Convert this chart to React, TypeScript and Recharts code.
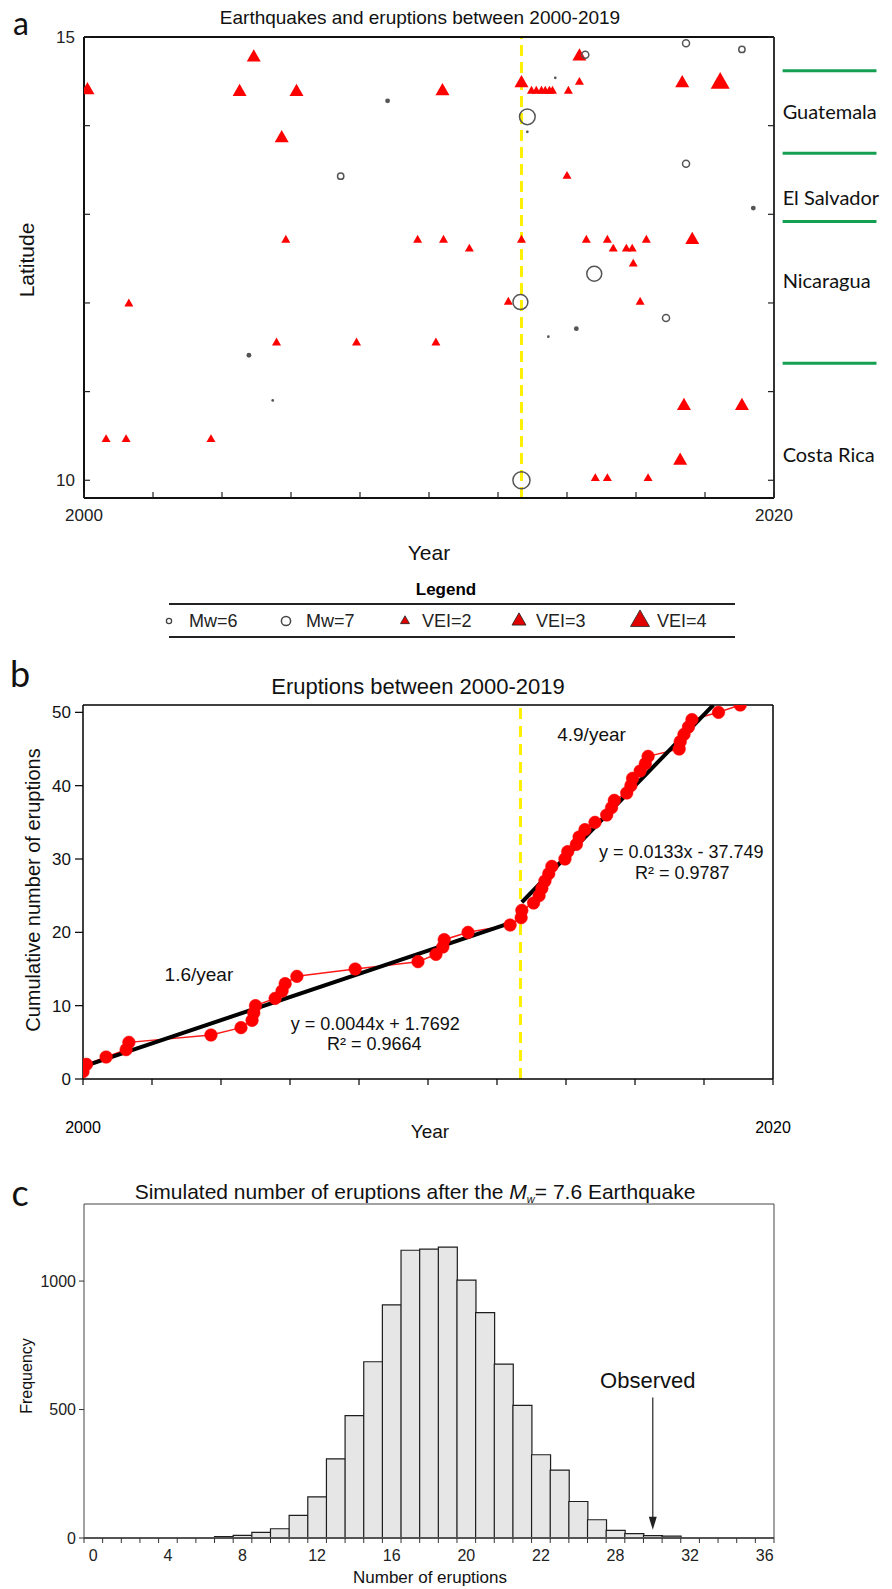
import React from "react";
import {
  ScatterChart,
  Scatter,
  XAxis,
  YAxis,
  ReferenceLine,
  ReferenceDot,
  ComposedChart,
  Line,
  BarChart,
  Bar,
} from "recharts";

const SANS = "'Liberation Sans', Arial, Helvetica, sans-serif";
const CAL = "Lato, 'Open Sans', sans-serif";

// ---------------- Panel a: earthquakes and eruptions ----------------
const eruptionYears = [
  2000.1, 2000.64, 2001.22, 2001.3, 2003.68, 2004.51, 2004.92, 2005.58, 2005.73, 2005.85,
  2006.16, 2007.9, 2009.67, 2010.2, 2010.39, 2010.42, 2011.17, 2012.3, 2012.68, 2012.68,
  2012.97, 2013.11, 2013.26, 2013.37, 2013.49, 2013.58, 2014.0, 2014.04, 2014.36, 2014.36,
  2014.56, 2014.82, 2015.17, 2015.17, 2015.34, 2015.72, 2015.89, 2015.92, 2016.12, 2016.3,
  2016.35, 2017.28, 2017.34, 2017.39, 2017.63, 2018.44, 2019.07,
];
const eruptionLats = [
  14.4, 10.46, 10.46, 11.99, 10.46, 14.38, 14.77, 11.55, 13.86, 12.71,
  14.38, 11.55, 12.71, 11.55, 14.39, 12.71, 12.61, 12.01, 14.48, 12.71,
  14.39, 14.39, 14.39, 14.39, 14.39, 14.39, 13.43, 14.39, 14.49, 14.78,
  12.71, 10.02, 12.71, 10.02, 12.61, 12.61, 12.61, 12.44, 12.01, 12.71,
  10.02, 10.22, 14.48, 10.84, 12.71, 14.48, 10.84,
];
const eruptionVEI = [
  3, 2, 2, 2, 2, 3, 3, 2, 3, 2,
  3, 2, 2, 2, 3, 2, 2, 2, 3, 2,
  2, 2, 2, 2, 2, 2, 2, 2, 2, 3,
  2, 2, 2, 2, 2, 2, 2, 2, 2, 2,
  2, 3, 3, 3, 3, 4, 3,
];
const quakeYears = [
  2004.78, 2005.47, 2007.44, 2008.8, 2012.65, 2012.68, 2012.85, 2012.85, 2013.46, 2013.66,
  2014.27, 2014.53, 2014.79, 2016.87, 2017.45, 2017.45, 2019.07, 2019.4,
];
const quakeLats = [
  11.41, 10.9, 13.43, 14.28, 12.01, 10.0, 14.1, 13.93, 11.62, 14.54,
  11.71, 14.8, 12.33, 11.83, 14.93, 13.57, 14.86, 13.07,
];
const quakeMw = [
  5.9, 5.6, 6.1, 5.9, 7.3, 7.6, 7.4, 5.6, 5.6, 5.6,
  5.9, 6.2, 7.3, 6.2, 6.2, 6.2, 6.1, 5.9,
];
const latTicks = [10, 11, 12, 13, 14, 15];
const latLabelTicks = [10, 15];
const yearTicks = [2000, 2002, 2004, 2006, 2008, 2010, 2012, 2014, 2016, 2018, 2020];
const yearLabelTicks = [2000, 2020];
const mainQuakeYear = 2012.68;
const countryNames = ["Guatemala", "El Salvador", "Nicaragua", "Costa Rica"];
const countryLats = [14.16, 13.2, 12.26, 10.3];
const borderLats = [14.62, 13.69, 12.92, 11.32];
const borderSpan = [2020.25, 2022.97];
const legendLabels = ["Mw=6", "Mw=7", "VEI=2", "VEI=3", "VEI=4"];

// ---------------- Panel b: cumulative eruptions ----------------
const cumYears = [
  2000.0, 2000.1, 2000.67, 2001.25, 2001.33, 2003.71, 2004.58, 2004.9, 2004.95, 2005.0,
  2005.57, 2005.77, 2005.86, 2006.2, 2007.89, 2009.71, 2010.23, 2010.43, 2010.47, 2011.16,
  2012.38, 2012.7, 2012.72, 2013.06, 2013.22, 2013.3, 2013.39, 2013.5, 2013.59, 2013.97,
  2014.05, 2014.3, 2014.38, 2014.55, 2014.84, 2015.18, 2015.32, 2015.4, 2015.76, 2015.88,
  2015.93, 2016.15, 2016.3, 2016.38, 2017.28, 2017.31, 2017.42, 2017.55, 2017.65, 2018.42,
  2019.05,
];
const cumCounts = [
  1, 2, 3, 4, 5, 6, 7, 8, 9, 10, 11, 12, 13, 14, 15, 16, 17, 18, 19, 20,
  21, 22, 23, 24, 25, 26, 27, 28, 29, 30, 31, 32, 33, 34, 35, 36, 37, 38, 39, 40,
  41, 42, 43, 44, 45, 46, 47, 48, 49, 50, 51,
];
const trendEarlyYears = [2000, 2012.33];
const trendEarlyCounts = [1.7, 21.2];
const trendLateYears = [2012.72, 2018.27];
const trendLateCounts = [24.1, 51];
const countTicks = [0, 10, 20, 30, 40, 50];

// ---------------- Panel c: simulated histogram ----------------
const bins = [
  0, 1, 2, 3, 4, 5, 6, 7, 8, 9, 10, 11, 12, 13, 14, 15, 16, 17, 18,
  19, 20, 21, 22, 23, 24, 25, 26, 27, 28, 29, 30, 31, 32, 33, 34, 35, 36,
];
const freqs = [
  0, 0, 0, 0, 0, 0, 0, 5, 10, 22, 36, 88, 160, 308, 476, 686, 907, 1120, 1124,
  1132, 1004, 877, 677, 516, 324, 264, 142, 71, 30, 17, 9, 7, 0, 0, 0, 0, 0,
];
const freqTicks = [0, 500, 1000];
const binLabelValues = [0, 4, 8, 12, 16, 20, 24, 28, 32, 36];
const binLabelTexts = ["0", "4", "8", "12", "16", "20", "22", "28", "32", "36"];
const observedEruptions = 30;

// ---------------- derived tables ----------------
const eruptionData = eruptionYears.map((x, i) => ({ x, y: eruptionLats[i], vei: eruptionVEI[i] }));
const quakeData = quakeYears.map((x, i) => ({ x, y: quakeLats[i], mw: quakeMw[i] }));
const cumData = cumYears.map((x, i) => ({ x, y: cumCounts[i] }));
const trendEarly = trendEarlyYears.map((x, i) => ({ x, y: trendEarlyCounts[i] }));
const trendLate = trendLateYears.map((x, i) => ({ x, y: trendLateCounts[i] }));
const histData = bins.map((bin, i) => ({ bin, freq: freqs[i] }));

// ---------------- shapes ----------------
const TRI_HALF: Record<number, number> = { 2: 4.5, 3: 7, 4: 9.5 };
function triPoints(cx: number, cy: number, half: number) {
  const h = half * 1.75;
  return `${cx - half},${cy + h / 3} ${cx + half},${cy + h / 3} ${cx},${cy - (2 * h) / 3}`;
}
const EruptionShape = (p: any) => {
  const half = TRI_HALF[p.payload?.vei] ?? 5;
  return <polygon points={triPoints(p.cx, p.cy, half)} fill="#ff0000" />;
};
const QuakeShape = (p: any) => {
  const mw = p.payload?.mw ?? 6;
  const r = 1 + (mw - 5.5) * 3.6;
  if (mw < 6) return <circle cx={p.cx} cy={p.cy} r={r} fill="#555" />;
  return <circle cx={p.cx} cy={p.cy} r={r} fill="none" stroke="#555" strokeWidth={1.5} />;
};

type Side = "bottom" | "top" | "left" | "right";
function inwardTick(side: Side, labels: number[], offset: number) {
  return (props: any) => {
    const { x, y, payload } = props;
    const v = payload?.value;
    const L = 6;
    let x2 = x;
    let y2 = y;
    if (side === "bottom") y2 = y - L;
    if (side === "top") y2 = y + L;
    if (side === "left") x2 = x + L;
    if (side === "right") x2 = x - L;
    let label = null;
    if (labels.includes(v)) {
      if (side === "bottom")
        label = (
          <text x={x} y={y + offset} textAnchor="middle" dominantBaseline="central" fontSize={17} fontFamily={SANS} fill="#222">
            {v}
          </text>
        );
      if (side === "left")
        label = (
          <text x={x - offset} y={y} textAnchor="end" dominantBaseline="central" fontSize={17} fontFamily={SANS} fill="#222">
            {v}
          </text>
        );
    }
    return (
      <g>
        <line x1={x} y1={y} x2={x2} y2={y2} stroke="#222" strokeWidth={1.2} />
        {label}
      </g>
    );
  };
}

const yearLabelTickB = (props: any) => {
  const { x, y, payload } = props;
  if (!yearLabelTicks.includes(payload?.value)) return <g />;
  return (
    <text x={x} y={y + 42} textAnchor="middle" dominantBaseline="central" fontSize={16} fontFamily={SANS} fill="#000">
      {payload.value}
    </text>
  );
};

const HALF_BAND = 9.32;
const binTick = (props: any) => {
  const { x, y, payload } = props;
  const v = payload?.value;
  const k = binLabelValues.indexOf(v);
  return (
    <g>
      <line x1={x - HALF_BAND} y1={y} x2={x - HALF_BAND} y2={y + 5} stroke="#333" strokeWidth={1} />
      {v === bins[bins.length - 1] && (
        <line x1={x + HALF_BAND} y1={y} x2={x + HALF_BAND} y2={y + 5} stroke="#333" strokeWidth={1} />
      )}
      {k >= 0 && (
        <text x={x} y={y + 17} textAnchor="middle" dominantBaseline="central" fontSize={16} fontFamily={SANS} fill="#222">
          {binLabelTexts[k]}
        </text>
      )}
    </g>
  );
};

const textShape = (label: string, size: number, anchor: "start" | "middle" | "end", family = SANS) => (p: any) => (
  <text x={p.cx} y={p.cy} textAnchor={anchor} dominantBaseline="central" fontSize={size} fontFamily={family} fill="#111">
    {label}
  </text>
);

const arrowHead = (p: any) => (
  <polygon points={`${p.cx - 4},${p.cy - 13} ${p.cx + 4},${p.cy - 13} ${p.cx},${p.cy}`} fill="#222" />
);

// ---------------- HTML text helper ----------------
const T = ({
  x,
  y,
  size,
  children,
  anchor = "middle",
  weight = "normal",
  family = SANS,
  rotate = 0,
}: any) => {
  const tx = anchor === "middle" ? "-50%" : anchor === "end" ? "-100%" : "0";
  return (
    <div
      style={{
        position: "absolute",
        left: x,
        top: y,
        transform: `translate(${tx}, -50%)${rotate ? ` rotate(${rotate}deg)` : ""}`,
        fontSize: size,
        fontFamily: family,
        fontWeight: weight,
        whiteSpace: "nowrap",
        lineHeight: 1.15,
        color: "#111",
      }}
    >
      {children}
    </div>
  );
};

const LegendA = () => {
  const y = 46;
  const markX = [169, 286, 405, 519, 640];
  const textX = [189, 306, 422, 536, 657];
  return (
    <svg width={892} height={70} style={{ position: "absolute", left: 0, top: 575 }}>
      <text x={446} y={14} textAnchor="middle" dominantBaseline="central" fontWeight="bold" fontSize={17} fontFamily={SANS}>
        Legend
      </text>
      <line x1={169} x2={735} y1={29} y2={29} stroke="#222" strokeWidth={2} />
      <line x1={169} x2={735} y1={62} y2={62} stroke="#222" strokeWidth={2} />
      <circle cx={markX[0]} cy={y} r={2.6} fill="none" stroke="#444" strokeWidth={1.3} />
      <circle cx={markX[1]} cy={y} r={4.6} fill="none" stroke="#444" strokeWidth={1.5} />
      <polygon points={triPoints(markX[2], y, 4.5)} fill="#e00000" stroke="#222" strokeWidth={0.8} />
      <polygon points={triPoints(markX[3], y, 7)} fill="#e00000" stroke="#222" strokeWidth={0.8} />
      <polygon points={triPoints(markX[4], y, 9.5)} fill="#e00000" stroke="#222" strokeWidth={0.8} />
      {legendLabels.map((l, i) => (
        <text key={l} x={textX[i]} y={y} dominantBaseline="central" fontSize={18} fontFamily={SANS} fill="#222">
          {l}
        </text>
      ))}
    </svg>
  );
};

export default function App() {
  return (
    <div
      style={{
        position: "absolute",
        left: 0,
        top: 0,
        width: 892,
        height: 1589,
        background: "#fff",
        overflow: "hidden",
        fontFamily: SANS,
      }}
    >
      {/* ---------------- Panel a ---------------- */}
      <T x={21} y={23} size={32} family={CAL}>a</T>
      <T x={420} y={18} size={19}>Earthquakes and eruptions between 2000-2019</T>
      <T x={27} y={260} size={21} rotate={-90}>Latitude</T>
      <T x={429} y={553} size={21}>Year</T>
      <div style={{ position: "absolute", left: 0, top: 0 }}>
        <ScatterChart width={892} height={540} margin={{ top: 27, left: 44, right: 108, bottom: 12 }}>
          <XAxis
            xAxisId="b"
            type="number"
            dataKey="x"
            domain={[2000, 2020]}
            ticks={yearTicks}
            interval={0}
            height={30}
            tickSize={0}
            tickMargin={0}
            tickLine={false}
            allowDataOverflow
            axisLine={{ stroke: "#111", strokeWidth: 2 }}
            tick={inwardTick("bottom", yearLabelTicks, 17)}
          />
          <XAxis
            xAxisId="t"
            orientation="top"
            type="number"
            domain={[2000, 2020]}
            ticks={yearTicks}
            interval={0}
            height={10}
            tickSize={0}
            tickMargin={0}
            tickLine={false}
            allowDataOverflow
            axisLine={{ stroke: "#111", strokeWidth: 2 }}
            tick={inwardTick("top", [], 0)}
          />
          <YAxis
            yAxisId="l"
            type="number"
            dataKey="y"
            domain={[9.8, 15]}
            ticks={latTicks}
            interval={0}
            width={40}
            tickSize={0}
            tickMargin={0}
            tickLine={false}
            allowDataOverflow
            axisLine={{ stroke: "#111", strokeWidth: 2 }}
            tick={inwardTick("left", latLabelTicks, 9)}
          />
          <YAxis
            yAxisId="r"
            orientation="right"
            type="number"
            domain={[9.8, 15]}
            ticks={latTicks}
            interval={0}
            width={10}
            tickSize={0}
            tickMargin={0}
            tickLine={false}
            allowDataOverflow
            axisLine={{ stroke: "#333", strokeWidth: 2 }}
            tick={inwardTick("right", [], 0)}
          />
          {borderLats.map((lat) => (
            <ReferenceLine
              key={lat}
              xAxisId="b"
              yAxisId="l"
              ifOverflow="visible"
              segment={[
                { x: borderSpan[0], y: lat },
                { x: borderSpan[1], y: lat },
              ]}
              stroke="#14a050"
              strokeWidth={3}
            />
          ))}
          {countryNames.map((n, i) => (
            <ReferenceDot
              key={n}
              xAxisId="b"
              yAxisId="l"
              x={borderSpan[0]}
              y={countryLats[i]}
              r={0}
              ifOverflow="visible"
              shape={textShape(n, 20, "start", CAL)}
            />
          ))}
          <Scatter xAxisId="b" yAxisId="l" data={eruptionData} shape={EruptionShape} isAnimationActive={false} />
          <Scatter xAxisId="b" yAxisId="l" data={quakeData} shape={QuakeShape} isAnimationActive={false} />
          <ReferenceLine
            xAxisId="b"
            yAxisId="l"
            x={mainQuakeYear}
            stroke="#fff000"
            strokeWidth={3}
            strokeDasharray="11 6"
          />
        </ScatterChart>
      </div>
      <LegendA />

      {/* ---------------- Panel b ---------------- */}
      <T x={20} y={674} size={36} family={CAL}>b</T>
      <T x={418} y={687} size={22}>Eruptions between 2000-2019</T>
      <T x={33} y={890} size={20} rotate={-90}>Cumulative number of eruptions</T>
      <T x={430} y={1132} size={19}>Year</T>
      <div style={{ position: "absolute", left: 0, top: 650 }}>
        <ComposedChart width={892} height={500} margin={{ top: 54, left: 23, right: 118, bottom: 41 }}>
          <XAxis
            xAxisId="b"
            type="number"
            dataKey="x"
            domain={[2000, 2020]}
            ticks={yearTicks}
            interval={0}
            height={30}
            tickSize={6}
            tickMargin={0}
            allowDataOverflow
            axisLine={{ stroke: "#000", strokeWidth: 1.5 }}
            tickLine={{ stroke: "#000", strokeWidth: 1.2 }}
            tick={yearLabelTickB}
          />
          <XAxis
            xAxisId="t"
            orientation="top"
            type="number"
            domain={[2000, 2020]}
            height={1}
            tick={false}
            tickLine={false}
            allowDataOverflow
            axisLine={{ stroke: "#000", strokeWidth: 1.5 }}
          />
          <YAxis
            yAxisId="l"
            type="number"
            dataKey="y"
            domain={[0, 51]}
            ticks={countTicks}
            interval={0}
            width={60}
            tickSize={8}
            tickMargin={4}
            allowDataOverflow
            axisLine={{ stroke: "#000", strokeWidth: 1.5 }}
            tickLine={{ stroke: "#000", strokeWidth: 1.2 }}
            tick={{ fontSize: 17, fill: "#111", fontFamily: SANS }}
          />
          <YAxis
            yAxisId="r"
            orientation="right"
            type="number"
            domain={[0, 51]}
            width={1}
            tick={false}
            tickLine={false}
            allowDataOverflow
            axisLine={{ stroke: "#000", strokeWidth: 1.5 }}
          />
          <ReferenceLine
            xAxisId="b"
            yAxisId="l"
            x={mainQuakeYear}
            stroke="#fff000"
            strokeWidth={3}
            strokeDasharray="11 7"
          />
          <Line
            xAxisId="b"
            yAxisId="l"
            data={cumData}
            dataKey="y"
            type="linear"
            stroke="#ff1a1a"
            strokeWidth={1.5}
            dot={{ r: 6.3, fill: "#ff0000", stroke: "#ff0000", strokeWidth: 0.5 }}
            isAnimationActive={false}
          />
          <Line
            xAxisId="b"
            yAxisId="l"
            data={trendEarly}
            dataKey="y"
            type="linear"
            stroke="#000"
            strokeWidth={4}
            dot={false}
            isAnimationActive={false}
          />
          <Line
            xAxisId="b"
            yAxisId="l"
            data={trendLate}
            dataKey="y"
            type="linear"
            stroke="#000"
            strokeWidth={4}
            dot={false}
            isAnimationActive={false}
          />
          <ReferenceDot xAxisId="b" yAxisId="l" x={2003.36} y={14.2} r={0} ifOverflow="visible" shape={textShape("1.6/year", 19, "middle")} />
          <ReferenceDot xAxisId="b" yAxisId="l" x={2008.47} y={7.5} r={0} ifOverflow="visible" shape={textShape("y = 0.0044x + 1.7692", 18, "middle")} />
          <ReferenceDot xAxisId="b" yAxisId="l" x={2008.44} y={4.8} r={0} ifOverflow="visible" shape={textShape("R² = 0.9664", 18, "middle")} />
          <ReferenceDot xAxisId="b" yAxisId="l" x={2014.74} y={47.0} r={0} ifOverflow="visible" shape={textShape("4.9/year", 19, "middle")} />
          <ReferenceDot xAxisId="b" yAxisId="l" x={2017.34} y={30.9} r={0} ifOverflow="visible" shape={textShape("y = 0.0133x - 37.749", 18, "middle")} />
          <ReferenceDot xAxisId="b" yAxisId="l" x={2017.37} y={28.1} r={0} ifOverflow="visible" shape={textShape("R² = 0.9787", 18, "middle")} />
        </ComposedChart>
      </div>

      {/* ---------------- Panel c ---------------- */}
      <T x={20} y={1193} size={36} family={CAL}>c</T>
      <T x={415} y={1193} size={21}>
        Simulated number of eruptions after the <i>M</i>
        <span style={{ fontSize: 11, fontStyle: "italic", verticalAlign: "-0.35em" }}>w</span>= 7.6 Earthquake
      </T>
      <T x={27} y={1376} size={16} rotate={-90}>Frequency</T>
      <T x={430} y={1578} size={17}>Number of eruptions</T>
      <div style={{ position: "absolute", left: 0, top: 1150 }}>
        <BarChart
          width={892}
          height={439}
          data={histData}
          barCategoryGap={0}
          barGap={0}
          margin={{ top: 53, left: 34, right: 117, bottom: 11 }}
        >
          <XAxis
            xAxisId="b"
            dataKey="bin"
            interval={0}
            height={40}
            tickSize={0}
            tickMargin={0}
            tickLine={false}
            axisLine={{ stroke: "#555", strokeWidth: 2 }}
            tick={binTick}
          />
          <XAxis
            xAxisId="t"
            orientation="top"
            dataKey="bin"
            height={1}
            tick={false}
            tickLine={false}
            axisLine={{ stroke: "#444", strokeWidth: 1 }}
          />
          <YAxis
            yAxisId="l"
            type="number"
            domain={[0, 1300]}
            ticks={freqTicks}
            interval={0}
            width={50}
            tickSize={5}
            tickMargin={3}
            allowDataOverflow
            axisLine={{ stroke: "#444", strokeWidth: 1 }}
            tickLine={{ stroke: "#333", strokeWidth: 1 }}
            tick={{ fontSize: 16, fill: "#222", fontFamily: SANS }}
          />
          <YAxis
            yAxisId="r"
            orientation="right"
            type="number"
            domain={[0, 1300]}
            width={1}
            tick={false}
            tickLine={false}
            allowDataOverflow
            axisLine={{ stroke: "#444", strokeWidth: 1 }}
          />
          <Bar
            xAxisId="b"
            yAxisId="l"
            dataKey="freq"
            fill="#e6e6e6"
            stroke="#1e1e1e"
            strokeWidth={1.2}
            isAnimationActive={false}
          />
          <ReferenceLine
            xAxisId="b"
            yAxisId="l"
            ifOverflow="visible"
            segment={[
              { x: observedEruptions, y: 547 },
              { x: observedEruptions, y: 60 },
            ]}
            stroke="#222"
            strokeWidth={1.2}
          />
          <ReferenceDot xAxisId="b" yAxisId="l" x={observedEruptions} y={32} r={0} ifOverflow="visible" shape={arrowHead} />
          <ReferenceDot
            xAxisId="b"
            yAxisId="l"
            x={observedEruptions}
            y={614}
            r={0}
            ifOverflow="visible"
            shape={(p: any) => (
              <text x={p.cx - 5} y={p.cy} textAnchor="middle" dominantBaseline="central" fontSize={22} fontFamily={SANS} fill="#111">
                Observed
              </text>
            )}
          />
        </BarChart>
      </div>
    </div>
  );
}
